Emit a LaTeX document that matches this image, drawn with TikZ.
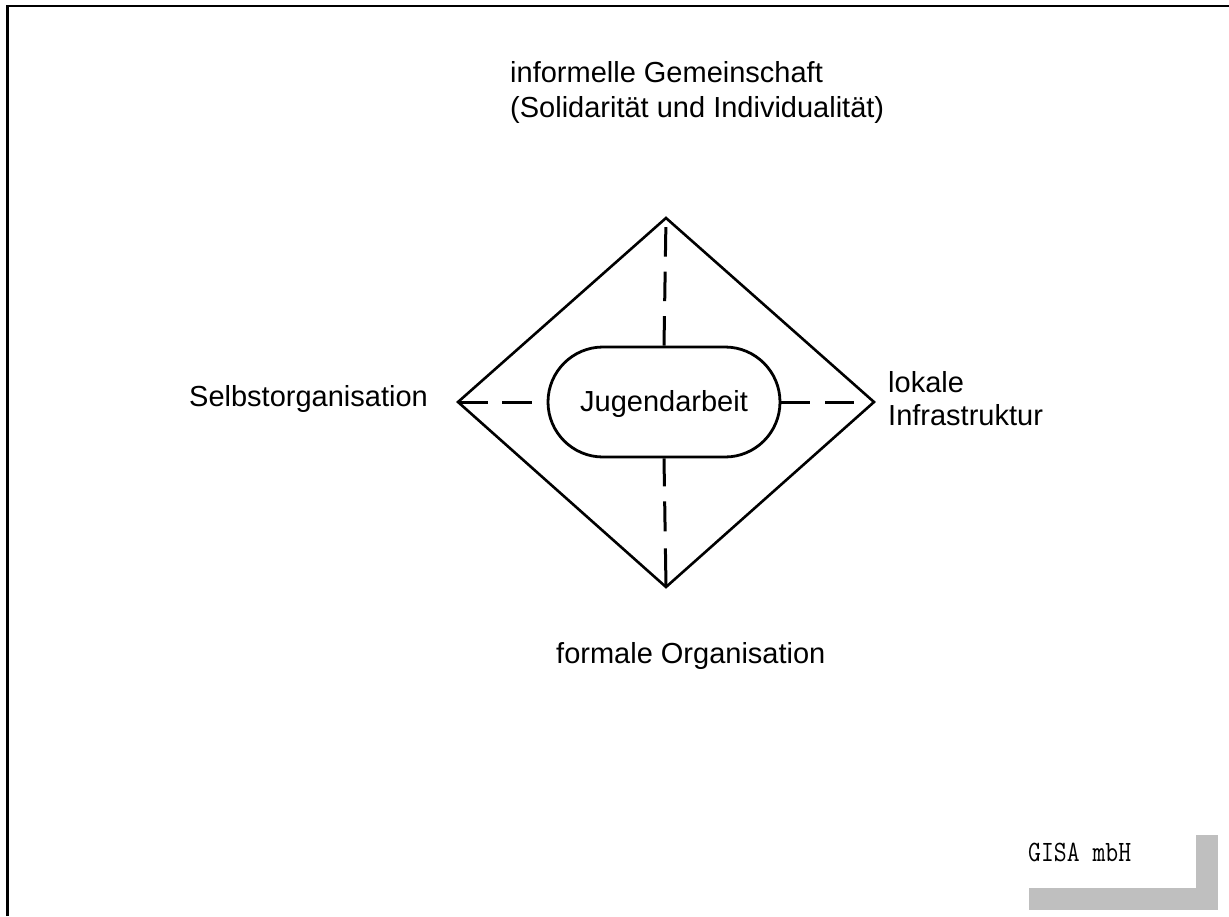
\documentclass[tikz,border=0pt]{standalone}
\usepackage{fontspec}
\setmainfont{Liberation Sans}
\begin{document}
\begin{tikzpicture}[x=1pt,y=-1pt,
  lbl/.style={inner sep=0pt, font=\fontsize{29}{35}\selectfont},
  edge/.style={line width=2.6pt, line join=miter},
  dsh/.style={line width=3pt},
  gr/.style={fill=gray!50!white, draw=none}]
\useasboundingbox (0,0) rectangle (1229,916);
% frame
\draw[line width=2.2pt] (7.5,916) -- (7.5,6) -- (1229,6);
% diamond
\coordinate (T) at (666,218);
\coordinate (L) at (458,402);
\coordinate (R) at (874,402);
\coordinate (B) at (666,587);
\draw[edge] (T) -- (R) -- (B) -- (L) -- cycle;
% central node
\node[draw, line width=2.8pt, rounded corners=55pt, minimum width=232pt, minimum height=110pt,
      inner sep=0pt] (ja) at (664,402) {};
\node[lbl, anchor=base] (jat) at (664,411) {Jugendarbeit};
% dashed spokes
\draw[dsh, dash pattern=on 29.5pt off 15pt] (ja.north) -- (T);
\draw[dsh, dash pattern=on 28pt off 15pt on 30pt off 17pt on 45pt off 10pt] (ja.south) -- (B);
\draw[dsh, dash pattern=on 30pt off 14pt on 30pt off 30pt] (L) -- (ja.west);
\draw[dsh, dash pattern=on 29pt off 15pt on 29pt off 30pt] (ja.east) -- (R);
% labels
\node[lbl, anchor=base west, align=left] (top) at (510,117) {informelle Gemeinschaft\\(Solidarität und Individualität)};
\node[lbl, anchor=base west] (left) at (189,406) {Selbstorganisation};
\node[lbl, anchor=base west, align=left, font=\fontsize{29}{33}\selectfont] (right) at (888,425) {lokale\\Infrastruktur};
\node[lbl, anchor=base west] (bottom) at (556,663) {formale Organisation};
% GISA logo
\fill[gr] (1196,835) rectangle (1218,910);
\fill[gr] (1029,888) rectangle (1218,910);
\node[inner sep=0pt, anchor=base west, font=\fontsize{25}{25}\ttfamily] (gisa) at (1028,861) {\scalebox{1}[1.18]{GISA mbH}};
\end{tikzpicture}
\end{document}
